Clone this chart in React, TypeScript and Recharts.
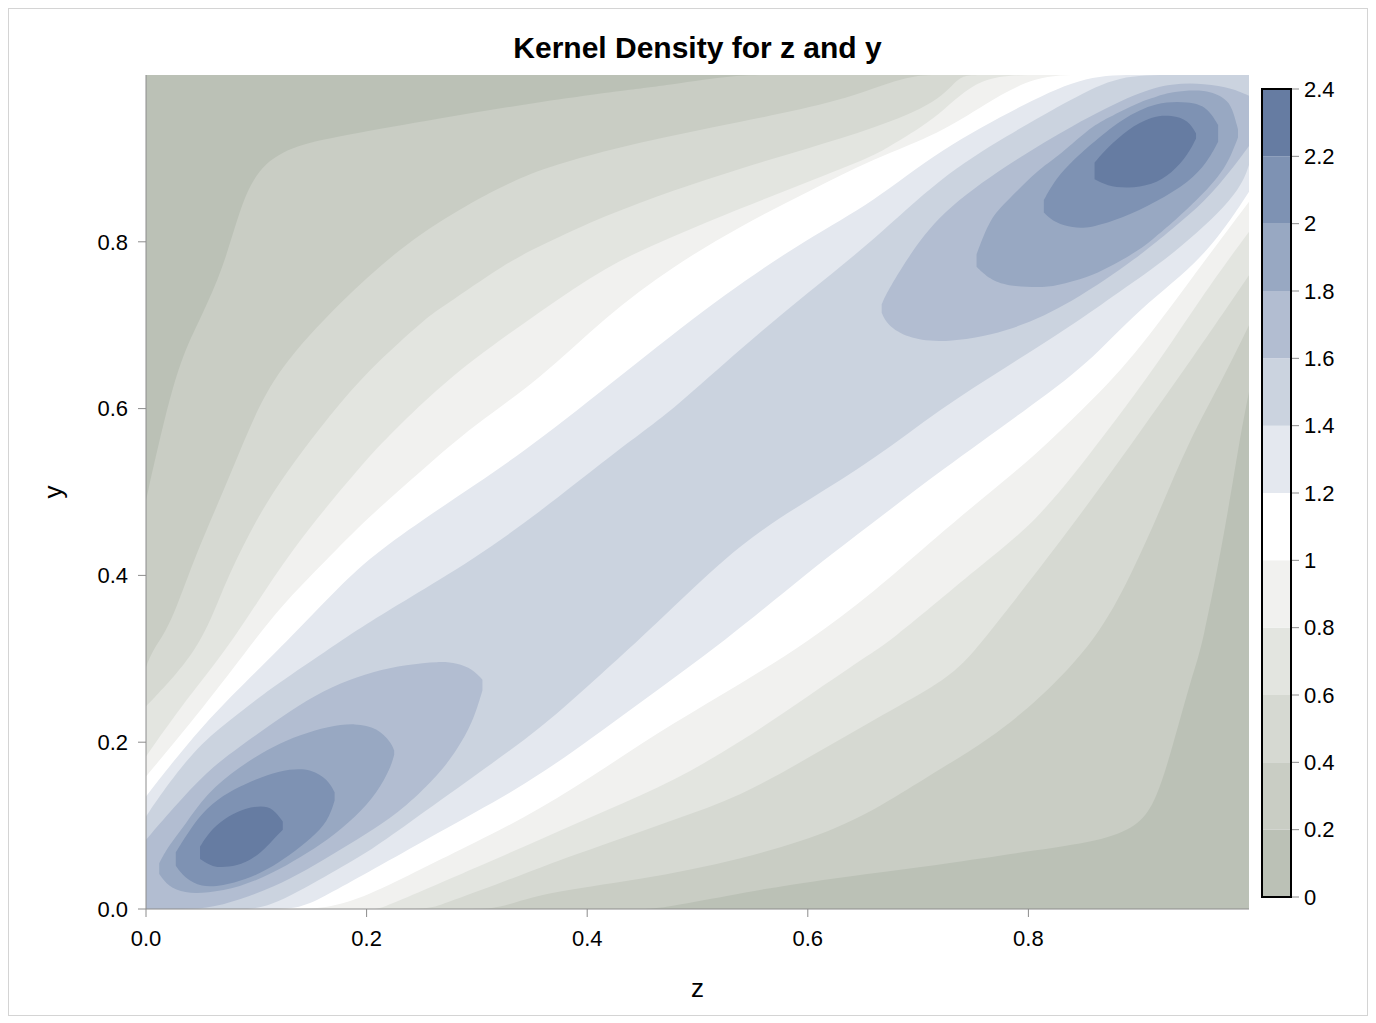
import React from "react";
import { ComposedChart, Area, XAxis, YAxis, BarChart, Bar } from "recharts";

const FONT = '"Liberation Sans", Arial, Helvetica, sans-serif';
const AXIS_GREY = "#8c8c8c";

// colour of each band, 0-0.2 at the bottom up to 2.2-2.4
const bandColors = [
  "#BBC1B6", "#C9CDC4", "#D6D9D2", "#E3E5E0", "#F1F1EF", "#FFFFFF",
  "#E4E8EF", "#CBD3DF", "#B2BDD1", "#98A8C2", "#7E92B3", "#667CA2",
];
const bandEdges = [0, 0.2, 0.4, 0.6, 0.8, 1, 1.2, 1.4, 1.6, 1.8, 2, 2.2, 2.4];
const axisTicks = [0, 0.2, 0.4, 0.6, 0.8];

// density >= 0 (whole plot)
const z00 = [0, 1];
const lo00 = [0, 0];
const hi00 = [1, 1];

// density >= 0.2
const z02 = [0, 0.015, 0.031, 0.05, 0.07, 0.085, 0.101, 0.13, 0.176, 0.266, 0.357, 0.448, 0.463, 0.532, 0.568, 0.659, 0.719, 0.81, 0.871, 0.901, 0.916, 0.93, 0.949, 0.957, 0.979, 0.991, 1];
const lo02 = [0, 0, 0, 0, 0, 0, 0, 0, 0, 0, 0, 0, 0, 0.017, 0.026, 0.043, 0.053, 0.071, 0.083, 0.101, 0.131, 0.191, 0.283, 0.311, 0.459, 0.56, 0.62];
const hi02 = [0.49, 0.579, 0.659, 0.71, 0.768, 0.84, 0.888, 0.914, 0.927, 0.948, 0.968, 0.984, 0.986, 1, 1, 1, 1, 1, 1, 1, 1, 1, 1, 1, 1, 1, 1];

// density >= 0.4
const z04 = [0, 0.006, 0.022, 0.043, 0.07, 0.094, 0.119, 0.176, 0.236, 0.296, 0.32, 0.357, 0.448, 0.539, 0.63, 0.69, 0.719, 0.764, 0.81, 0.862, 0.893, 0.92, 0.945, 0.978, 1];
const lo04 = [0, 0, 0, 0, 0, 0, 0, 0, 0, 0, 0, 0.019, 0.035, 0.059, 0.095, 0.143, 0.167, 0.203, 0.251, 0.323, 0.4, 0.48, 0.56, 0.64, 0.7];
const hi04 = [0.29, 0.311, 0.339, 0.419, 0.5, 0.579, 0.647, 0.728, 0.8, 0.848, 0.864, 0.888, 0.92, 0.944, 0.968, 1, 1, 1, 1, 1, 1, 1, 1, 1, 1];

// density >= 0.6
const z06 = [0, 0.049, 0.07, 0.094, 0.115, 0.141, 0.176, 0.212, 0.257, 0.267, 0.327, 0.357, 0.417, 0.478, 0.539, 0.6, 0.66, 0.72, 0.737, 0.753, 0.84, 0.9, 0.948, 1];
const lo06 = [0, 0, 0, 0, 0, 0, 0, 0, 0, 0.005, 0.034, 0.05, 0.078, 0.107, 0.135, 0.181, 0.227, 0.271, 0.29, 0.311, 0.459, 0.57, 0.659, 0.76];
const hi06 = [0.243, 0.311, 0.387, 0.452, 0.5, 0.548, 0.608, 0.659, 0.712, 0.72, 0.775, 0.795, 0.832, 0.862, 0.888, 0.912, 0.936, 0.968, 1, 1, 1, 1, 1, 1];

// density >= 0.8
const z08 = [0, 0.03, 0.073, 0.101, 0.131, 0.169, 0.206, 0.212, 0.251, 0.296, 0.357, 0.417, 0.478, 0.539, 0.6, 0.66, 0.676, 0.72, 0.755, 0.81, 0.87, 0.92, 0.96, 1];
const lo08 = [0, 0, 0, 0, 0, 0, 0, 0, 0.022, 0.048, 0.083, 0.118, 0.153, 0.2, 0.255, 0.309, 0.323, 0.371, 0.41, 0.467, 0.57, 0.659, 0.74, 0.812];
const hi08 = [0.183, 0.24, 0.311, 0.368, 0.428, 0.491, 0.548, 0.556, 0.608, 0.659, 0.716, 0.771, 0.807, 0.84, 0.872, 0.903, 0.916, 0.951, 1, 1, 1, 1, 1, 1];

// density >= 1.0
const z10 = [0, 0.045, 0.092, 0.122, 0.164, 0.2, 0.251, 0.296, 0.357, 0.417, 0.478, 0.539, 0.6, 0.66, 0.72, 0.76, 0.807, 0.85, 0.894, 0.95, 1];
const lo10 = [0, 0, 0, 0, 0, 0.015, 0.049, 0.078, 0.119, 0.17, 0.223, 0.27, 0.32, 0.38, 0.45, 0.494, 0.545, 0.6, 0.659, 0.76, 0.848];
const hi10 = [0.159, 0.23, 0.311, 0.363, 0.419, 0.468, 0.527, 0.579, 0.635, 0.711, 0.771, 0.819, 0.86, 0.9, 0.93, 0.965, 1, 1, 1, 1, 1];

// density >= 1.2
const z12 = [0, 0.05, 0.108, 0.14, 0.164, 0.2, 0.251, 0.297, 0.357, 0.443, 0.527, 0.6, 0.66, 0.719, 0.8, 0.853, 0.9, 0.96, 1];
const lo12 = [0, 0, 0, 0, 0.017, 0.043, 0.081, 0.115, 0.159, 0.243, 0.323, 0.404, 0.464, 0.524, 0.601, 0.652, 0.72, 0.78, 0.86];
const hi12 = [0.135, 0.22, 0.295, 0.338, 0.371, 0.419, 0.467, 0.507, 0.562, 0.653, 0.74, 0.804, 0.848, 0.91, 0.968, 1, 1, 1, 1];

// density >= 1.4
const z14 = [0, 0.02, 0.05, 0.085, 0.11, 0.165, 0.2, 0.236, 0.297, 0.357, 0.417, 0.447, 0.478, 0.54, 0.6, 0.66, 0.72, 0.78, 0.84, 0.882, 0.93, 0.99, 1];
const lo14 = [0, 0, 0, 0, 0, 0.041, 0.067, 0.101, 0.159, 0.215, 0.287, 0.323, 0.362, 0.44, 0.49, 0.539, 0.6, 0.65, 0.7, 0.74, 0.783, 0.855, 0.892];
const hi14 = [0.111, 0.15, 0.2, 0.235, 0.262, 0.311, 0.342, 0.371, 0.419, 0.476, 0.539, 0.569, 0.599, 0.673, 0.739, 0.802, 0.877, 0.927, 0.972, 1, 1, 1, 1];

// density >= 1.6, lower and upper peak
const z16a = [0, 0.024, 0.055, 0.085, 0.115, 0.146, 0.176, 0.206, 0.236, 0.266, 0.282, 0.296, 0.305];
const lo16a = [0, 0, 0, 0.011, 0.026, 0.047, 0.071, 0.095, 0.123, 0.162, 0.191, 0.223, 0.262];
const hi16a = [0.083, 0.12, 0.165, 0.195, 0.223, 0.251, 0.271, 0.285, 0.293, 0.297, 0.295, 0.288, 0.275];
const z16b = [0.667, 0.672, 0.69, 0.72, 0.78, 0.84, 0.9, 0.93, 0.96, 0.985, 1];
const lo16b = [0.715, 0.7, 0.685, 0.678, 0.69, 0.727, 0.782, 0.815, 0.848, 0.888, 0.915];
const hi16b = [0.725, 0.74, 0.78, 0.835, 0.892, 0.94, 0.98, 0.99, 0.99, 0.984, 0.975];

// density >= 1.8
const z18a = [0.012, 0.02, 0.035, 0.055, 0.085, 0.115, 0.14, 0.165, 0.19, 0.21, 0.222, 0.225];
const lo18a = [0.042, 0.027, 0.019, 0.019, 0.026, 0.043, 0.062, 0.083, 0.11, 0.14, 0.17, 0.185];
const hi18a = [0.055, 0.075, 0.1, 0.139, 0.171, 0.195, 0.209, 0.219, 0.223, 0.217, 0.2, 0.19];
const z18b = [0.753, 0.765, 0.78, 0.81, 0.825, 0.855, 0.871, 0.901, 0.916, 0.93, 0.961, 0.979, 0.985, 0.99];
const lo18b = [0.77, 0.755, 0.747, 0.745, 0.747, 0.758, 0.768, 0.79, 0.807, 0.822, 0.86, 0.89, 0.908, 0.925];
const hi18b = [0.785, 0.828, 0.848, 0.888, 0.9, 0.936, 0.948, 0.968, 0.974, 0.98, 0.983, 0.972, 0.96, 0.935];

// density >= 2.0
const z20a = [0.027, 0.035, 0.05, 0.07, 0.09, 0.11, 0.13, 0.15, 0.165, 0.171];
const lo20a = [0.052, 0.037, 0.026, 0.028, 0.035, 0.047, 0.064, 0.085, 0.105, 0.13];
const hi20a = [0.068, 0.085, 0.115, 0.137, 0.15, 0.161, 0.168, 0.168, 0.155, 0.14];
const z20b = [0.814, 0.825, 0.84, 0.855, 0.885, 0.916, 0.946, 0.962, 0.972];
const lo20b = [0.835, 0.822, 0.817, 0.816, 0.828, 0.848, 0.872, 0.895, 0.92];
const hi20b = [0.85, 0.876, 0.897, 0.915, 0.948, 0.968, 0.968, 0.962, 0.94];

// density >= 2.2
const z22a = [0.049, 0.06, 0.075, 0.09, 0.105, 0.115, 0.124];
const lo22a = [0.06, 0.05, 0.05, 0.055, 0.068, 0.083, 0.095];
const hi22a = [0.075, 0.097, 0.112, 0.121, 0.124, 0.121, 0.105];
const z22b = [0.86, 0.871, 0.89, 0.912, 0.93, 0.945, 0.952];
const lo22b = [0.875, 0.867, 0.864, 0.868, 0.882, 0.905, 0.924];
const hi22b = [0.895, 0.912, 0.935, 0.951, 0.952, 0.946, 0.93];

interface Layer {
  id: string;
  band: number;
  z: number[];
  lo: number[];
  hi: number[];
}

const layers: Layer[] = [
  { id: "d00", band: 0, z: z00, lo: lo00, hi: hi00 },
  { id: "d02", band: 1, z: z02, lo: lo02, hi: hi02 },
  { id: "d04", band: 2, z: z04, lo: lo04, hi: hi04 },
  { id: "d06", band: 3, z: z06, lo: lo06, hi: hi06 },
  { id: "d08", band: 4, z: z08, lo: lo08, hi: hi08 },
  { id: "d10", band: 5, z: z10, lo: lo10, hi: hi10 },
  { id: "d12", band: 6, z: z12, lo: lo12, hi: hi12 },
  { id: "d14", band: 7, z: z14, lo: lo14, hi: hi14 },
  { id: "d16a", band: 8, z: z16a, lo: lo16a, hi: hi16a },
  { id: "d16b", band: 8, z: z16b, lo: lo16b, hi: hi16b },
  { id: "d18a", band: 9, z: z18a, lo: lo18a, hi: hi18a },
  { id: "d18b", band: 9, z: z18b, lo: lo18b, hi: hi18b },
  { id: "d20a", band: 10, z: z20a, lo: lo20a, hi: hi20a },
  { id: "d20b", band: 10, z: z20b, lo: lo20b, hi: hi20b },
  { id: "d22a", band: 11, z: z22a, lo: lo22a, hi: hi22a },
  { id: "d22b", band: 11, z: z22b, lo: lo22b, hi: hi22b },
];

const toRows = (l: Layer) =>
  l.z.map((z, i) => ({ z, range: [l.lo[i], l.hi[i]] }));

const colorbarRow: Record<string, number | string> = { name: "density" };
bandColors.forEach((_, i) => {
  colorbarRow["b" + i] = +(bandEdges[i + 1] - bandEdges[i]).toFixed(1);
});
const colorbarData = [colorbarRow];

const tickStyle = { fill: "#000", fontSize: 22, fontFamily: FONT };

const App: React.FC = () => (
  <div
    style={{
      position: "relative",
      width: 1360,
      height: 1008,
      border: "1px solid #d4d4d4",
      boxSizing: "border-box",
      background: "#fff",
      fontFamily: FONT,
    }}
  >
    <div
      style={{
        position: "absolute",
        left: 137,
        width: 1103,
        top: 24,
        textAlign: "center",
        fontSize: 30,
        lineHeight: "30px",
        fontWeight: "bold",
        color: "#000",
      }}
    >
      Kernel Density for z and y
    </div>

    <div style={{ position: "absolute", left: 0, top: 0 }}>
      <ComposedChart
        width={1300}
        height={1000}
        margin={{ top: 66, right: 60, left: 40, bottom: 40 }}
      >
        {layers.map((l) => (
          <Area
            key={l.id}
            data={toRows(l)}
            dataKey="range"
            type="basis"
            stroke="none"
            fill={bandColors[l.band]}
            fillOpacity={1}
            dot={false}
            activeDot={false}
            isAnimationActive={false}
          />
        ))}
        <XAxis
          dataKey="z"
          type="number"
          domain={[0, 1]}
          allowDataOverflow
          ticks={axisTicks}
          interval={0}
          tickFormatter={(v: number) => v.toFixed(1)}
          tick={tickStyle}
          tickSize={8}
          tickMargin={13}
          tickLine={{ stroke: AXIS_GREY }}
          axisLine={{ stroke: AXIS_GREY }}
          height={60}
          label={{
            value: "z",
            position: "bottom",
            offset: 10,
            style: { fontSize: 26, fill: "#000", fontFamily: FONT },
          }}
        />
        <YAxis
          type="number"
          domain={[0, 1]}
          allowDataOverflow
          ticks={axisTicks}
          interval={0}
          tickFormatter={(v: number) => v.toFixed(1)}
          tick={tickStyle}
          tickSize={8}
          tickMargin={10}
          tickLine={{ stroke: AXIS_GREY }}
          axisLine={{ stroke: AXIS_GREY }}
          width={97}
          label={{
            value: "y",
            angle: -90,
            position: "insideLeft",
            offset: 4,
            style: { fontSize: 26, fill: "#000", fontFamily: FONT, textAnchor: "middle" },
          }}
        />
        <XAxis
          xAxisId="top"
          orientation="top"
          type="number"
          domain={[0, 1]}
          height={0}
          tick={false}
          tickLine={false}
          axisLine={{ stroke: AXIS_GREY }}
        />
        <YAxis
          yAxisId="right"
          orientation="right"
          type="number"
          domain={[0, 1]}
          width={0}
          tick={false}
          tickLine={false}
          axisLine={{ stroke: AXIS_GREY }}
        />
      </ComposedChart>
    </div>

    <div style={{ position: "absolute", left: 1253, top: 60 }}>
      <BarChart
        width={99}
        height={848}
        data={colorbarData}
        barCategoryGap={0}
        margin={{ top: 20, right: 0, left: 0, bottom: 20 }}
      >
        <XAxis dataKey="name" hide />
        {bandColors.map((c, i) => (
          <Bar
            key={i}
            dataKey={"b" + i}
            stackId="cb"
            fill={c}
            isAnimationActive={false}
          />
        ))}
        <YAxis
          orientation="right"
          type="number"
          domain={[0, 2.4]}
          ticks={bandEdges}
          interval={0}
          tickFormatter={(v: number) => String(Math.round(v * 10) / 10)}
          tick={tickStyle}
          tickSize={8}
          tickMargin={5}
          tickLine={{ stroke: AXIS_GREY }}
          axisLine={false}
          width={70}
        />
      </BarChart>
    </div>
    {/* outline of the colour bar */}
    <div
      style={{
        position: "absolute",
        left: 1252,
        top: 79,
        width: 31,
        height: 810,
        border: "2px solid #000",
        boxSizing: "border-box",
        pointerEvents: "none",
      }}
    />
  </div>
);

export default App;
